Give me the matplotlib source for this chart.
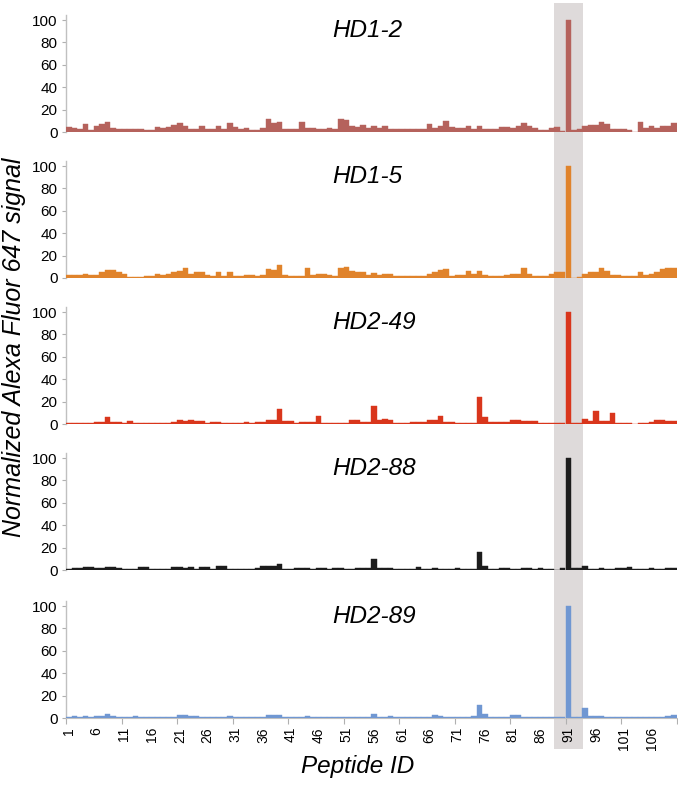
import numpy as np
import matplotlib
matplotlib.use('Agg')
import matplotlib.pyplot as plt
from matplotlib.patches import Rectangle
from matplotlib.transforms import blended_transform_factory

plt.rcParams['font.family'] = ['Liberation Sans', 'DejaVu Sans']

# data: normalized signal for peptides 1..110
peptides = np.arange(1, 111)
tick_labels = [str(p) for p in range(1, 111, 5)]

hd1_2 = [4.5, 3.5, 2.5, 7, 2, 5.5, 7.5, 9, 3.5, 3,
         2.5, 2.5, 3, 3, 2, 2, 4.5, 4, 4.5, 6,
         8, 5, 3, 3, 5, 3, 3, 5.5, 2.5, 8,
         4.5, 3, 4, 2, 2, 3.5, 11.5, 8, 9, 2.5,
         3, 2.5, 9, 4, 4, 3, 3, 3.5, 3,
         12, 11, 5, 4.5, 6, 4, 5.5, 3.5, 5.5, 3,
         3, 2.5, 2.5, 3, 3, 2.5, 7.5, 3.5, 5, 10,
         4.5, 4, 4, 5.5, 3, 5, 3, 2.5, 2.5, 4.5,
         4.5, 3.5, 5.5, 8, 5, 3.5, 2, 2, 4, 4.5,
         0.5, 100, 1.5, 3, 5, 6.5, 6.5, 9, 7, 3,
         2.5, 2.5, 2, 0, 8.5, 3.5, 5, 4, 5, 5, 8]

hd1_5 = [3, 3, 2.5, 3.5, 2.5, 2.5, 5, 7.5, 7.5, 5.5,
         4, 1, 1, 1, 2, 2, 3.5, 2.5, 4, 5.5,
         6.5, 8.5, 4, 5, 5, 3, 2, 5, 2, 5.5,
         2, 1.5, 2.5, 2.5, 1.5, 2.5, 8, 7, 12, 2.5,
         1.5, 1.5, 2, 8.5, 3, 3.5, 3.5, 2.5, 2,
         9, 10, 6.5, 5, 5, 3, 4.5, 2.5, 4, 4,
         2, 2, 2, 2, 2, 1.5, 4, 5.5, 7, 8,
         2, 2.5, 2.5, 6, 4, 6, 3, 2, 2, 1.8,
         2.5, 3.5, 4, 8.5, 3.5, 2, 2, 2, 3.5, 5,
         5, 100, 0, 1, 3.5, 5, 5, 9, 6, 2.5,
         2.5, 1.5, 2, 2, 5, 2.5, 4, 5.5, 8, 8.5, 8.5]

hd2_49 = [1, 1, 1.2, 1.2, 1.2, 2, 2, 6.5, 2, 2,
          0.8, 3, 0.8, 0.5, 0.5, 0.5, 1, 1, 1, 2,
          4, 3, 4, 2.5, 2.5, 1.2, 1.5, 1.5, 1, 1,
          0.5, 0.5, 1.8, 0.7, 1.8, 1.8, 4, 3.5, 13, 2.5,
          2.5, 1.2, 1.8, 1.8, 1.8, 7, 1, 1, 1,
          0.8, 0.8, 4, 4, 1.5, 1.5, 16.5, 3.5, 4.5, 4,
          1, 1, 1, 1.8, 1.8, 1.8, 4, 4, 7.5, 1.5,
          1.5, 0.5, 0.5, 1.2, 1.2, 24, 6, 1.5, 1.5, 1.5,
          1.5, 3.5, 3.5, 2.5, 2.5, 2.5, 0.5, 0.5, 0.5, 1,
          1, 100, 1.2, 1.2, 4.5, 2.5, 11.5, 2.5, 2.5, 10,
          1, 0.5, 0.5, 0, 0.8, 0.8, 2, 3.3, 3.3, 2.5, 2.5]

hd2_88 = [1.2, 2, 1.5, 2.4, 2.4, 2, 2, 3, 3, 2,
          1, 1, 1, 2.4, 2.4, 1.2, 1.2, 1.2, 1.2, 2.4,
          2.4, 1.8, 3, 1.2, 2.4, 2.4, 1.2, 3.3, 3.3, 1,
          1, 1, 1, 1, 1.5, 3.9, 3.3, 3.3, 5, 1.2,
          1.2, 1.8, 1.8, 1.8, 1, 1.8, 1.8, 1, 1.8,
          1.8, 1, 1, 1.8, 1.8, 2, 9.5, 2, 2, 1.5,
          0.6, 0.6, 0.6, 1, 2.4, 1.2, 1.2, 1.8, 1.2, 1,
          1, 1.5, 1, 1, 1, 16, 3.3, 1, 1, 1.5,
          1.5, 1.2, 1.2, 1.5, 1.5, 1, 1.5, 1.2, 1.2, 0,
          1.5, 100, 1.5, 1.5, 4, 1, 1, 1.8, 0.6, 0.6,
          1.5, 1.5, 2.4, 1, 1, 1, 1.5, 1.2, 1.2, 1.5, 1.5]

hd2_89 = [0.6, 1.8, 0.6, 1.5, 0.6, 1.5, 2, 3.3, 1.8, 1,
          0.5, 0.5, 1.5, 0.5, 0.5, 0.5, 0.5, 0.5, 0.5, 0.5,
          2.4, 2.4, 2, 2, 0.6, 0.6, 0.6, 1.2, 0.5, 1.8,
          1, 0.5, 0.5, 0.5, 0.5, 1.2, 2.4, 2.4, 2.4, 1.2,
          0.6, 0.5, 0.5, 1.5, 0.6, 0.6, 0.6, 0.6, 0.6,
          0.5, 1.2, 1.2, 1.2, 1.2, 0.6, 4, 0.5, 0.5, 1.8,
          0.6, 1, 0.5, 0.5, 1, 1, 1, 3, 1.8, 0.5,
          0.5, 0.5, 0.5, 0.6, 1.5, 12, 4, 0.5, 0.6, 0.6,
          0.6, 2.7, 2.7, 1.2, 1.2, 0.6, 0.5, 0.5, 0.5, 0.5,
          0.5, 100, 0.5, 0.5, 8.5, 2.1, 2.1, 1.5, 0.6, 0.5,
          0.5, 0.5, 0.5, 0.5, 0.6, 0.5, 0.5, 0.5, 0.5, 1.5, 2.7]

names = ['HD1-2', 'HD1-5', 'HD2-49', 'HD2-88', 'HD2-89']
series = [hd1_2, hd1_5, hd2_49, hd2_88, hd2_89]
colors = ['#b5625c', '#e0832b', '#d9361c', '#1c1c1c', '#7097d2']

W, H = 678, 785
fig = plt.figure(figsize=(W / 100, H / 100), dpi=100)

# pixel row of the zero line in each panel, 112 px per 100 units
zero_rows = [132, 278, 424, 570, 718]
ax_h = 117
axes = []
for name, vals, col, z in zip(names, series, colors, zero_rows):
    ax = fig.add_axes([66 / W, 1 - z / H, 610.5 / W, ax_h / H])
    ax.set_facecolor('none')
    ax.bar(peptides, vals, width=1.0, color=col, edgecolor=col, linewidth=0.3, zorder=3)
    ax.set_xlim(0.5, 110.5)
    ax.set_ylim(0, 104.5)
    ax.set_yticks(range(0, 101, 20))
    ax.tick_params(axis='y', labelsize=11, length=3, width=0.8, color='#b0b0b0', pad=3)
    for s in ['top', 'right', 'bottom']:
        ax.spines[s].set_visible(False)
    ax.spines['left'].set_color('#c0c0c0')
    ax.spines['left'].set_linewidth(1.0)
    ax.set_xticks([])
    ax.text(48.4, 90.5, name, fontsize=17.5, style='italic', ha='left', va='center')
    axes.append(ax)

ax = axes[-1]
ax.spines['bottom'].set_visible(True)
ax.spines['bottom'].set_color('#c0c0c0')
ax.set_xticks(range(1, 111, 5))
ax.set_xticklabels(tick_labels, rotation=90)
ax.set_xticks(np.arange(0.5, 111, 10), minor=True)
ax.tick_params(axis='x', which='major', length=0, labelsize=10, pad=6.5)
ax.tick_params(axis='x', which='minor', length=4, width=0.8, color='#b0b0b0')

# highlighted column around peptide 91, spanning all panels
trans = blended_transform_factory(ax.transData, fig.transFigure)
fig.add_artist(Rectangle((88.5, 1 - 749 / H), 5.1, (749 - 3) / H, transform=trans,
                         facecolor='#dedada', edgecolor='none', zorder=-1))

fig.text(0.021, 0.558, 'Normalized Alexa Fluor 647 signal', rotation=90, fontsize=18,
         style='italic', ha='center', va='center')
fig.text(0.528, 0.023, 'Peptide ID', fontsize=17.5, style='italic', ha='center', va='center')

fig.savefig('out.png', dpi=100, facecolor='white')
